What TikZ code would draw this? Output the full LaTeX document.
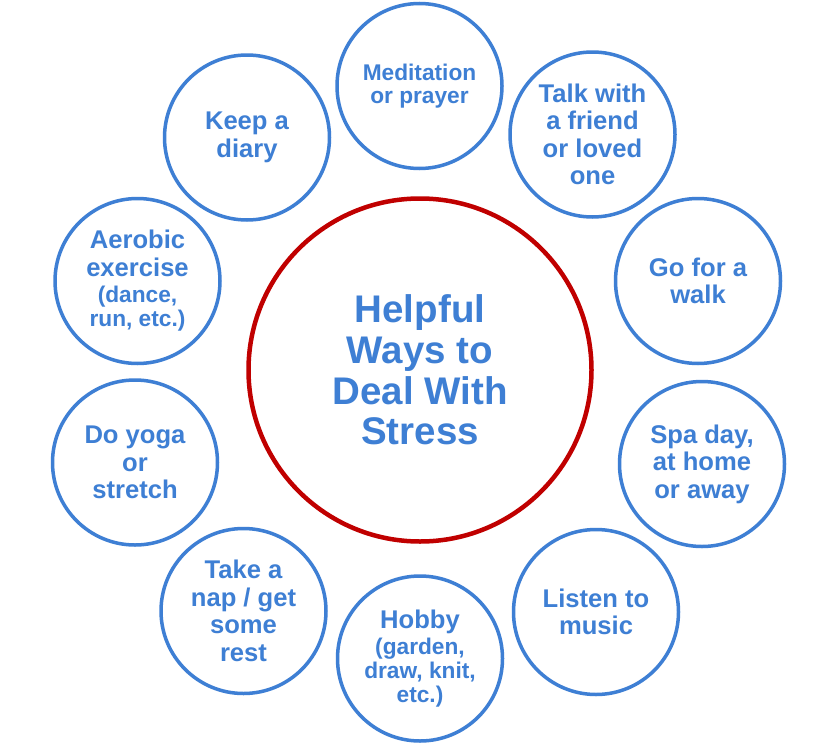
\documentclass[tikz,border=0pt]{standalone}
\usepackage{fontspec}
\setmainfont{Liberation Sans}
\definecolor{ringblue}{RGB}{62,127,212}
\definecolor{textblue}{RGB}{62,127,212}
\definecolor{ringred}{RGB}{192,0,0}
\newcommand{\sm}[1]{{\fontsize{22.7}{24}\selectfont #1}}
\tikzset{
  bubble/.style={circle, draw=ringblue, line width=3.5pt, minimum size=165pt, inner sep=0pt},
  hub/.style={circle, draw=ringred, line width=4.5pt, minimum size=343pt, inner sep=0pt},
  btext/.style={align=center, text=textblue, inner sep=0pt, font=\bfseries\fontsize{25.6}{27.5}\selectfont},
  stext/.style={align=center, text=textblue, inner sep=0pt, font=\bfseries\fontsize{22.7}{23.5}\selectfont},
  htext/.style={align=center, text=textblue, inner sep=0pt, font=\bfseries\fontsize{38.5}{40.7}\selectfont}
}
\begin{document}
\begin{tikzpicture}[x=1pt,y=-1pt]
\fill[white] (0,0) rectangle (840,744);
\useasboundingbox (0,0) rectangle (840,744);

\node[hub] (hubc) at (420,370) {};
\node[htext] (hubt) at (hubc) {Helpful\\Ways to\\Deal With\\Stress};

\node[bubble] (c1) at (419.5,86) {};
\node[stext] (t1) at (c1) {Meditation\\or prayer};

\node[bubble] (c2) at (592.5,134.5) {};
\node[btext] (t2) at (c2) {Talk with\\a friend\\or loved\\one};

\node[bubble] (c3) at (698,281) {};
\node[btext] (t3) at (c3) {Go for a\\walk};

\node[bubble] (c4) at (702,464) {};
\node[btext] (t4) at (c4) {Spa day,\\at home\\or away};

\node[bubble] (c5) at (596,612) {};
\node[btext] (t5) at (c5) {Listen to\\music};

\node[bubble] (c6) at (420,658.5) {};
\node[btext] (t6) at (c6) {Hobby\\[-1pt]\sm{(garden,}\\[-3.5pt]\sm{draw, knit,}\\[-3.5pt]\sm{etc.)}};

\node[bubble] (c7) at (243.5,611) {};
\node[btext] (t7) at (c7) {Take a\\nap / get\\some\\rest};

\node[bubble] (c8) at (135,462.5) {};
\node[btext] (t8) at (c8) {Do yoga\\or\\stretch};

\node[bubble] (c9) at (137.5,281) {};
\node[btext] (t9) at (c9) {Aerobic\\exercise\\[-1pt]\sm{(dance,}\\[-3.5pt]\sm{run, etc.)}};

\node[bubble] (c10) at (247,137.5) {};
\node[btext] (t10) at (c10) {Keep a\\diary};
\end{tikzpicture}
\end{document}
